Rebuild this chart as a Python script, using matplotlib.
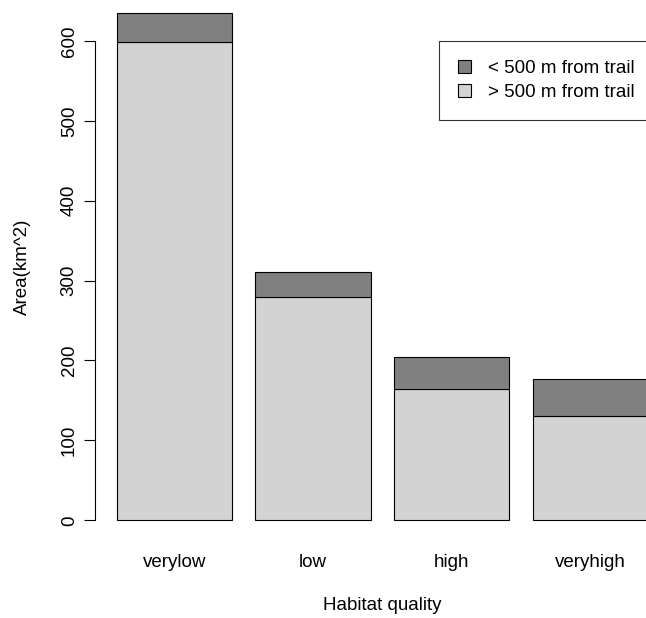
import matplotlib
matplotlib.use("Agg")
import matplotlib.pyplot as plt
from matplotlib.patches import Patch

plt.rcParams["font.family"] = ["Liberation Sans", "DejaVu Sans"]

categories = ["verylow", "low", "high", "veryhigh"]
far_from_trail = [599, 279, 164, 130]    # > 500 m from trail
near_trail = [36, 32, 40, 47]            # < 500 m from trail
yticks = [0, 100, 200, 300, 400, 500, 600]

FS = 13.5

fig = plt.figure(figsize=(6.46, 6.18), dpi=100)
W, H = 646.0, 618.0
# axes box in pixels, R-style barplot region (extends past the figure edges)
left_px, right_px = 95.4, 669.3
top_px, bottom_px = -7.4, 540.6
ax = fig.add_axes([left_px / W, (H - bottom_px) / H,
                   (right_px - left_px) / W, (bottom_px - top_px) / H])
ax.patch.set_alpha(0)

xs = [0.7 + 1.2 * i for i in range(len(categories))]
ax.bar(xs, far_from_trail, width=1.0, color="#d3d3d3", edgecolor="black", linewidth=0.8)
ax.bar(xs, near_trail, width=1.0, bottom=far_from_trail, color="#808080",
       edgecolor="black", linewidth=0.8)

ax.set_xlim(0.016, 4.984)
ax.set_ylim(-25.4, 660.4)

for s in ["top", "right", "bottom"]:
    ax.spines[s].set_visible(False)
ax.spines["left"].set_bounds(0, 600)
ax.spines["left"].set_linewidth(0.8)

ax.set_yticks(yticks)
ax.set_yticklabels([str(v) for v in yticks], rotation=90, va="center", fontsize=FS)
ax.tick_params(axis="y", length=7.7, width=0.8, pad=5)

ax.set_xticks(xs)
ax.set_xticklabels(categories, fontsize=FS)
ax.tick_params(axis="x", length=0, pad=10)

fig.text(382 / W, 1 - 606 / H, "Habitat quality", ha="center", va="center", fontsize=FS)
fig.text(22 / W, 1 - 266.6 / H, "Area(km^2)", ha="center", va="center",
         rotation=90, fontsize=FS)

handles = [Patch(facecolor="#808080", edgecolor="black", linewidth=0.8),
           Patch(facecolor="#d3d3d3", edgecolor="black", linewidth=0.8)]
leg = fig.legend(handles, ["< 500 m from trail", "> 500 m from trail"],
                 loc="upper left", bbox_to_anchor=(439 / W, 1 - 41 / H),
                 fontsize=FS, frameon=True, fancybox=False, edgecolor="black",
                 handlelength=0.7, handleheight=0.7, handletextpad=0.9,
                 borderpad=1.0, labelspacing=0.36, borderaxespad=0)
leg.get_frame().set_linewidth(0.8)

fig.savefig("out.png", dpi=100)
